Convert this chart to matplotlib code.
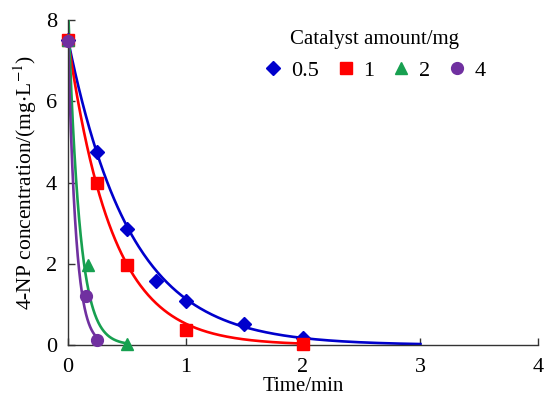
import numpy as np
import matplotlib
matplotlib.use("Agg")
import matplotlib.pyplot as plt

plt.rcParams['font.family'] = ['Liberation Serif', 'DejaVu Serif']
plt.rcParams['mathtext.fontset'] = 'stix'

labels = ['0.5', '1', '2', '4']
colors = ['#0000CC', '#FF0000', '#17A050', '#7030A0']
markers = ['D', 's', '^', 'o']

t_05 = [0, 0.25, 0.5, 0.75, 1.0, 1.5, 2.0]
c_05 = [7.5, 4.75, 2.85, 1.58, 1.08, 0.52, 0.18]
t_1 = [0, 0.25, 0.5, 1.0, 2.0]
c_1 = [7.5, 4.0, 1.97, 0.38, 0.03]
t_2 = [0, 0.167, 0.5]
c_2 = [7.5, 1.97, 0.02]
t_4 = [0, 0.15, 0.25]
c_4 = [7.47, 1.2, 0.13]

# first-order fit parameters (C0, k, end time)
fit_c0 = [7.5, 7.5, 8.3, 7.5]
fit_k = [1.88, 2.65, 10.5, 15.0]
fit_end = [3.0, 2.0, 0.5, 0.25]

ts = [t_05, t_1, t_2, t_4]
cs = [c_05, c_1, c_2, c_4]

fig = plt.figure(figsize=(5.45, 3.99), dpi=100)
ax = fig.add_axes([0.125, 0.135, 0.862, 0.815])

handles = []
for i in range(4):
    tt = np.linspace(0, fit_end[i], 300)
    ax.plot(tt, fit_c0[i] * np.exp(-fit_k[i] * tt), color=colors[i], lw=1.9, zorder=2)
for i in range(4):
    ms = 7.5 if markers[i] == 'D' else 8.5
    h = ax.plot(ts[i], cs[i], linestyle='none', marker=markers[i], color=colors[i],
                markersize=ms, zorder=3 + i, clip_on=False, label=labels[i])[0]
    handles.append(h)

ax.set_xlim(0, 4)
ax.set_ylim(0, 8)
ax.set_xticks([0, 1, 2, 3, 4])
ax.set_yticks([0, 2, 4, 6, 8])
ax.spines['top'].set_visible(False)
ax.spines['right'].set_visible(False)
for s in ['left', 'bottom']:
    ax.spines[s].set_linewidth(1.0)
    ax.spines[s].set_color('#333333')
ax.tick_params(direction='in', length=5, width=1.0, labelsize=16, color='#333333')
ax.tick_params(axis='x', pad=9)
ax.tick_params(axis='y', pad=8)

ax.set_xlabel('Time/min', fontsize=15, labelpad=0)
ax.set_ylabel('4-NP concentration/(mg$\\cdot$L$^{-1}$)', fontsize=15.5, labelpad=5)

leg = ax.legend(handles=handles, title='Catalyst amount/mg', ncol=4, frameon=False,
                fontsize=16, title_fontsize=15, loc='upper left',
                bbox_to_anchor=(0.385, 1.01), handlelength=1.0, handletextpad=0.3,
                columnspacing=0.7, borderaxespad=0.2)
leg._legend_box.sep = 8

fig.savefig('out.png', dpi=100)
